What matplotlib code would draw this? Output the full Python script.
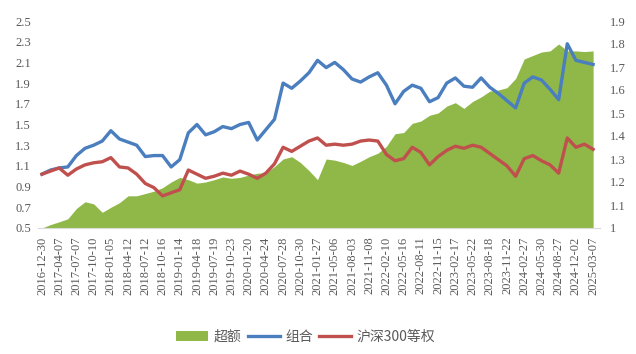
import matplotlib
matplotlib.use("Agg")
import matplotlib.pyplot as plt
import numpy as np

# tick labels (one every two samples)
date_labels = ["2016-12-30", "2017-04-07", "2017-07-07", "2017-10-10", "2018-01-05",
               "2018-04-12", "2018-07-12", "2018-10-16", "2019-01-14", "2019-04-18",
               "2019-07-19", "2019-10-23", "2020-01-20", "2020-04-24", "2020-07-28",
               "2020-10-30", "2021-01-27", "2021-05-06", "2021-08-03", "2021-11-08",
               "2022-02-10", "2022-05-16", "2022-08-11", "2022-11-15", "2023-02-17",
               "2023-05-22", "2023-08-18", "2023-11-22", "2024-02-27", "2024-05-30",
               "2024-08-27", "2024-12-02", "2025-03-07"]

# 组合 net value (left axis)
portfolio = [1.02, 1.06, 1.08, 1.09, 1.20, 1.27, 1.30, 1.34, 1.44, 1.36,
             1.33, 1.30, 1.19, 1.20, 1.20, 1.09, 1.16, 1.42, 1.50, 1.40,
             1.43, 1.48, 1.46, 1.50, 1.52, 1.35, 1.45, 1.55, 1.90, 1.85,
             1.92, 2.00, 2.12, 2.05, 2.10, 2.03, 1.94, 1.91, 1.96, 2.00,
             1.88, 1.70, 1.82, 1.88, 1.85, 1.72, 1.76, 1.90, 1.95, 1.87,
             1.86, 1.95, 1.86, 1.80, 1.73, 1.66, 1.90, 1.96, 1.93, 1.84,
             1.74, 2.28, 2.12, 2.10, 2.08]

# 沪深300等权 net value (left axis)
benchmark = [1.02, 1.05, 1.08, 1.01, 1.07, 1.11, 1.13, 1.14, 1.18, 1.09,
             1.08, 1.02, 0.93, 0.89, 0.81, 0.84, 0.87, 1.06, 1.02, 0.98,
             1.00, 1.03, 1.01, 1.05, 1.02, 0.98, 1.03, 1.12, 1.28, 1.24,
             1.29, 1.34, 1.37, 1.30, 1.31, 1.30, 1.31, 1.34, 1.35, 1.34,
             1.21, 1.15, 1.17, 1.28, 1.23, 1.11, 1.19, 1.25, 1.29, 1.27,
             1.30, 1.28, 1.22, 1.16, 1.10, 1.00, 1.17, 1.20, 1.15, 1.11,
             1.03, 1.37, 1.28, 1.31, 1.26]

# 超额 (right axis)
excess = [1.00, 1.015, 1.027, 1.04, 1.085, 1.114, 1.105, 1.068, 1.09, 1.11,
          1.14, 1.14, 1.15, 1.16, 1.175, 1.20, 1.22, 1.21, 1.195, 1.20,
          1.21, 1.222, 1.216, 1.22, 1.23, 1.238, 1.24, 1.267, 1.30, 1.31,
          1.285, 1.25, 1.21, 1.30, 1.295, 1.285, 1.272, 1.29, 1.31, 1.325,
          1.355, 1.41, 1.415, 1.455, 1.465, 1.49, 1.50, 1.53, 1.545, 1.52,
          1.55, 1.57, 1.595, 1.60, 1.61, 1.65, 1.735, 1.75, 1.765, 1.77,
          1.80, 1.77, 1.77, 1.767, 1.77]

green = "#8fb848"
blue = "#4a7ebe"
red = "#c0504d"
grey = "#595959"

x = np.arange(len(portfolio))

fig = plt.figure(figsize=(6.36, 3.54), dpi=100)
ax = fig.add_axes([38 / 636, 1 - 228 / 354, 562 / 636, 207 / 354])
ax2 = ax.twinx()

# green area on the right axis, lines on the left axis drawn above it
ax2.fill_between(x, 1.0, excess, color=green, linewidth=0, label="超额")
l1, = ax.plot(x, portfolio, color=blue, lw=2.4, label="组合")
l2, = ax.plot(x, benchmark, color=red, lw=2.4, label="沪深300等权")
ax.set_zorder(ax2.get_zorder() + 1)
ax.patch.set_visible(False)

ax.set_xlim(-0.46, 64.8)
ax.set_ylim(0.5, 2.5)
ax2.set_ylim(1.0, 1.9)
ax.set_yticks(np.arange(0.5, 2.51, 0.2))
ax.set_yticklabels([f"{v:.1f}" for v in np.arange(0.5, 2.51, 0.2)])
ax2.set_yticks(np.arange(1.0, 1.91, 0.1))
ax2.set_yticklabels(["1"] + [f"{v:.1f}" for v in np.arange(1.1, 1.91, 0.1)])
ax.set_xticks(np.arange(0, len(x), 2))
ax.set_xticklabels(date_labels, rotation=90)

serif = "Liberation Serif"
for a in (ax, ax2):
    for s in a.spines.values():
        s.set_visible(False)
    a.tick_params(length=0, colors=grey, labelsize=9)
    for lab in a.get_xticklabels() + a.get_yticklabels():
        lab.set_fontfamily(serif)
ax.tick_params(axis="y", pad=5)
ax2.tick_params(axis="y", pad=7)
ax.tick_params(axis="x", pad=6)
ax.spines["bottom"].set_visible(True)
ax.spines["bottom"].set_color("#d9d9d9")

handles = [ax2.collections[0], l1, l2]
leg = fig.legend(handles, [h.get_label() for h in handles], loc="center",
                 bbox_to_anchor=(0.481, 1 - 337 / 354), ncol=3, frameon=False,
                 prop={"family": ["Noto Sans CJK SC", "DejaVu Sans"], "size": 10},
                 handlelength=2.3, handletextpad=0.4, columnspacing=0.45)
for t in leg.get_texts():
    t.set_color(grey)

fig.savefig("out.png", dpi=100)
